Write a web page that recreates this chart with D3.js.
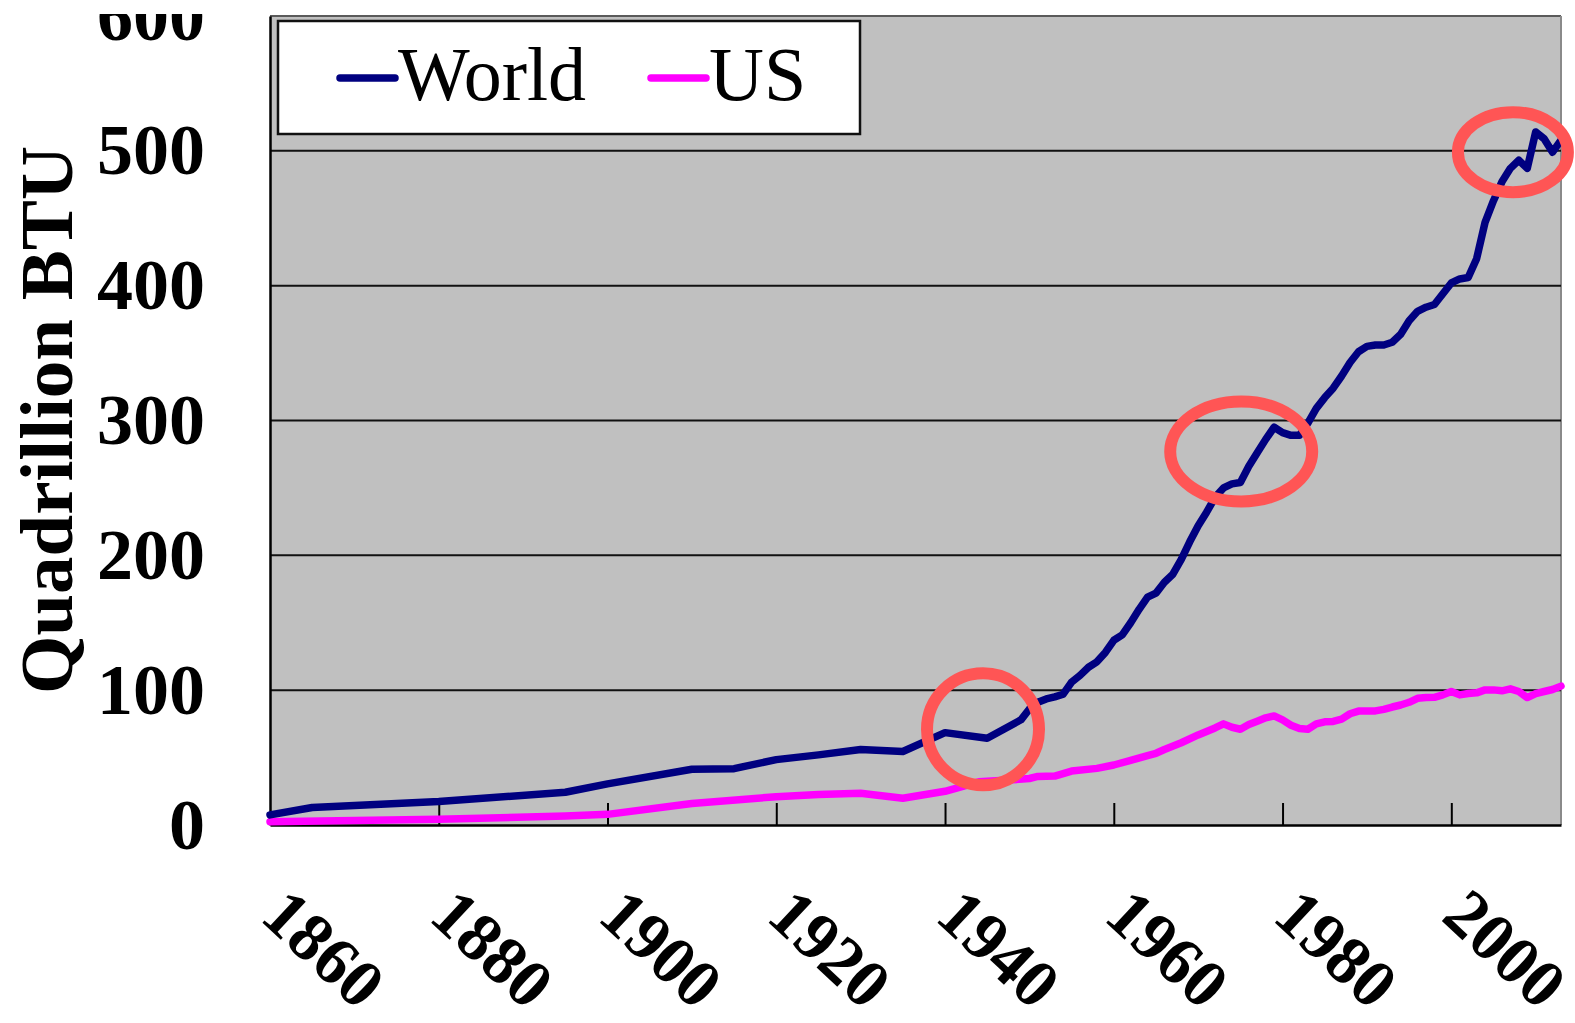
<!DOCTYPE html>
<html>
<head>
<meta charset="utf-8">
<script src="https://cdn.jsdelivr.net/npm/d3@7"></script>
<style>
  html, body { margin: 0; padding: 0; background: #ffffff; }
  svg { display: block; }
</style>
</head>
<body>
<svg id="chart" width="1575" height="1023"></svg>
<script>
// Primary energy consumption, quadrillion BTU
const worldYears = [1860, 1865, 1880, 1895, 1900, 1910, 1915, 1920, 1925, 1930, 1935, 1940, 1945, 1949,
  1950, 1951, 1952, 1953, 1954, 1955, 1956, 1957, 1958, 1959, 1960, 1961, 1962, 1963, 1964, 1965, 1966,
  1967, 1968, 1969, 1970, 1971, 1972, 1973, 1974, 1975, 1976, 1977, 1978, 1979, 1980, 1981, 1982, 1983,
  1984, 1985, 1986, 1987, 1988, 1989, 1990, 1991, 1992, 1993, 1994, 1995, 1996, 1997, 1998, 1999, 2000,
  2001, 2002, 2003, 2004, 2005, 2006, 2007, 2008, 2009, 2010, 2011, 2012, 2013];
const worldValues = [7.5, 13, 17.5, 24.3, 30.5, 41.3, 41.8, 48.5, 52, 56, 54.5, 68.5, 64.3, 78,
  86, 91, 93.5, 95, 97, 106, 111, 117, 121, 128, 137, 141, 150, 160, 169, 172, 180,
  186, 197, 210, 222, 232, 243, 250, 253, 254, 266, 276, 286, 295, 291, 289, 289, 298,
  309, 317, 324, 333, 343, 351, 355, 356, 356, 358, 364, 374, 381, 384, 386, 394, 402,
  405, 406, 420, 447, 463, 477, 487, 493, 487, 514, 509, 499, 508];

const usYears = [1860, 1880, 1895, 1900, 1910, 1920, 1925, 1930, 1935, 1940, 1944, 1948, 1950, 1951,
  1953, 1955, 1958, 1960, 1962, 1964, 1965, 1966, 1968, 1970, 1972, 1973, 1974, 1975, 1976, 1977, 1978,
  1979, 1980, 1981, 1982, 1983, 1984, 1985, 1986, 1987, 1988, 1989, 1990, 1991, 1992, 1993, 1994, 1995,
  1996, 1997, 1998, 1999, 2000, 2001, 2002, 2003, 2004, 2005, 2006, 2007, 2008, 2009, 2010, 2011, 2012, 2013];
const usValues = [2.5, 4.2, 6.7, 7.9, 16, 21, 22.7, 23.5, 19.8, 25, 32, 33.5, 34.5, 36,
  36.3, 40, 42, 44.5, 48, 51.5, 53.2, 56, 61, 66.8, 72, 75, 72.5, 71, 74.5, 77, 79.5,
  80.9, 78, 74, 71.5, 71, 75, 76.5, 76.8, 78.5, 82.5, 84.5, 84.5, 84.6, 85.8, 87.5, 89, 91,
  94, 94.5, 94.7, 96.5, 99, 96.5, 97.5, 98, 100.2, 100.2, 99.5, 101, 99, 94.5, 97.5, 99, 100.5, 103];

const yTicks = [0, 100, 200, 300, 400, 500, 600];
const xTicks = [1860, 1880, 1900, 1920, 1940, 1960, 1980, 2000];
const seriesNames = ["World", "US"];
const seriesColors = ["#000080", "#ff00ff"];

// Highlight rings: centre year/value and radii in pixels
const highlights = [
  { year: 1944.5, value: 71, rx: 56, ry: 56 },
  { year: 1975.1, value: 277, rx: 71, ry: 50 },
  { year: 2007.3, value: 499, rx: 55, ry: 40 }
];

const svg = d3.select("#chart");
const serif = "'Liberation Serif', 'Times New Roman', serif";

const plot = { left: 270, right: 1561, top: 16, bottom: 825 };
const x = d3.scaleLinear().domain([1860, 2013]).range([plot.left, plot.right]);
const y = d3.scaleLinear().domain([0, 600]).range([plot.bottom, plot.top]);

// Plot background and frame
svg.append("rect")
  .attr("x", plot.left).attr("y", plot.top)
  .attr("width", plot.right - plot.left).attr("height", plot.bottom - plot.top)
  .attr("fill", "#c0c0c0");
svg.append("line").attr("x1", plot.left).attr("x2", plot.right).attr("y1", plot.top).attr("y2", plot.top)
  .attr("stroke", "#5a5a5a").attr("stroke-width", 2);
svg.append("line").attr("x1", plot.right).attr("x2", plot.right).attr("y1", plot.top).attr("y2", plot.bottom)
  .attr("stroke", "#8a8a8a").attr("stroke-width", 2);

// Horizontal gridlines
svg.append("g")
  .selectAll("line")
  .data(yTicks.filter(d => d > 0 && d < 600))
  .join("line")
  .attr("x1", plot.left).attr("x2", plot.right)
  .attr("y1", d => y(d)).attr("y2", d => y(d))
  .attr("stroke", "#111").attr("stroke-width", 2);

// Y axis labels; the top one runs off the upper edge of the figure area
svg.append("clipPath").attr("id", "yclip")
  .append("rect").attr("x", -plot.left).attr("y", 14).attr("width", plot.left + 10).attr("height", 1023);
const yAxis = d3.axisLeft(y).tickValues(yTicks).tickSize(0).tickPadding(0);
const yg = svg.append("g")
  .attr("transform", `translate(${plot.left},0)`)
  .attr("clip-path", "url(#yclip)")
  .call(yAxis);
yg.select(".domain").attr("stroke", "#000").attr("stroke-width", 2.5);
yg.selectAll(".tick text")
  .attr("x", 205 - plot.left)
  .attr("dy", "0.32em")
  .attr("text-anchor", "end")
  .attr("font-family", serif)
  .attr("font-weight", "bold")
  .attr("font-size", 72)
  .attr("fill", "#000");

// X axis with inward ticks and slanted labels
const xAxis = d3.axisBottom(x).tickValues(xTicks).tickSize(0).tickFormat(d3.format("d"));
const xg = svg.append("g")
  .attr("transform", `translate(0,${plot.bottom})`)
  .call(xAxis);
xg.select(".domain").attr("stroke", "#000").attr("stroke-width", 2.5);
xg.selectAll(".tick line").remove();
xg.selectAll(".tick")
  .filter(d => d > 1860)
  .append("line")
  .attr("y1", 0).attr("y2", -22)
  .attr("stroke", "#000").attr("stroke-width", 2);
xg.selectAll(".tick text")
  .attr("x", 0).attr("y", 0).attr("dy", 0)
  .attr("transform", "translate(-12,94) rotate(43)")
  .attr("text-anchor", "start")
  .attr("font-family", serif)
  .attr("font-weight", "bold")
  .attr("font-size", 68)
  .attr("fill", "#000");

// Axis title
svg.append("text")
  .attr("transform", "translate(72,420) rotate(-90)")
  .attr("text-anchor", "middle")
  .attr("font-family", serif)
  .attr("font-weight", "bold")
  .attr("font-size", 75)
  .attr("fill", "#000")
  .text("Quadrillion BTU");

// Series lines
const line = d3.line().x(d => x(d[0])).y(d => y(d[1]));
const worldData = d3.zip(worldYears, worldValues);
const usData = d3.zip(usYears, usValues);
svg.append("path").datum(usData)
  .attr("d", line).attr("fill", "none")
  .attr("stroke", seriesColors[1]).attr("stroke-width", 7.5)
  .attr("stroke-linejoin", "round").attr("stroke-linecap", "round");
svg.append("path").datum(worldData)
  .attr("d", line).attr("fill", "none")
  .attr("stroke", seriesColors[0]).attr("stroke-width", 7.5)
  .attr("stroke-linejoin", "round").attr("stroke-linecap", "round");

// Legend
const legend = svg.append("g");
legend.append("rect")
  .attr("x", 278).attr("y", 21).attr("width", 582).attr("height", 113)
  .attr("fill", "#fff").attr("stroke", "#111").attr("stroke-width", 2.5);
const legendItems = [
  { name: seriesNames[0], color: seriesColors[0], x0: 340, x1: 395, tx: 398 },
  { name: seriesNames[1], color: seriesColors[1], x0: 651, x1: 706, tx: 709 }
];
legendItems.forEach(it => {
  legend.append("line")
    .attr("x1", it.x0).attr("x2", it.x1).attr("y1", 78).attr("y2", 78)
    .attr("stroke", it.color).attr("stroke-width", 7.5).attr("stroke-linecap", "round");
  legend.append("text")
    .attr("x", it.tx).attr("y", 100)
    .attr("font-family", serif)
    .attr("font-size", 76)
    .attr("fill", "#000")
    .text(it.name);
});

// Highlight rings
svg.append("g")
  .selectAll("ellipse")
  .data(highlights)
  .join("ellipse")
  .attr("cx", d => x(d.year)).attr("cy", d => y(d.value))
  .attr("rx", d => d.rx).attr("ry", d => d.ry)
  .attr("fill", "none")
  .attr("stroke", "#ff5555").attr("stroke-width", 12);
</script>
</body>
</html>
